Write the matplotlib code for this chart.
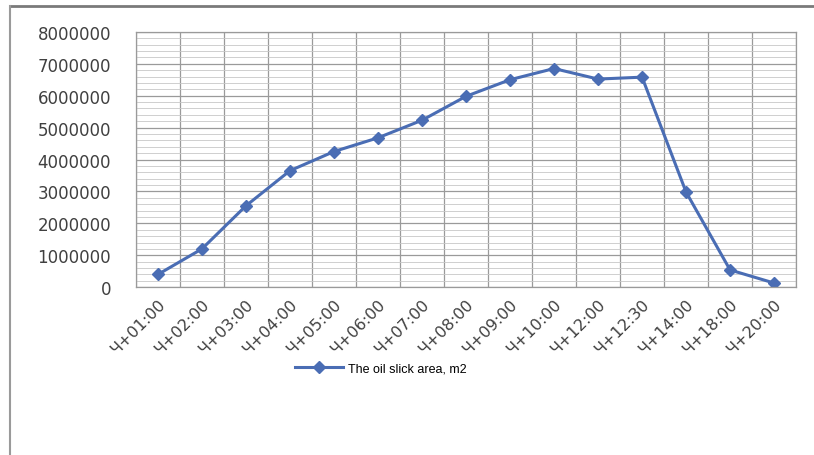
import matplotlib.pyplot as plt
from matplotlib.lines import Line2D
import numpy as np

# Data
times = [
    "Ч+01:00", "Ч+02:00", "Ч+03:00", "Ч+04:00", "Ч+05:00",
    "Ч+06:00", "Ч+07:00", "Ч+08:00", "Ч+09:00", "Ч+10:00",
    "Ч+12:00", "Ч+12:30", "Ч+14:00", "Ч+18:00", "Ч+20:00",
]
area = [
    400000, 1200000, 2550000, 3650000, 4250000,
    4680000, 5230000, 5980000, 6500000, 6850000,
    6520000, 6580000, 2980000, 540000, 130000,
]
series_name = "The oil slick area, m2"

line_color = "#4a6db4"
grid_color = "#9a9a9a"
text_color = "#404040"

plt.rcParams["font.family"] = ["DejaVu Sans"]

fig = plt.figure(figsize=(8.14, 4.56), dpi=100)
ax = fig.add_axes([0.167, 0.368, 0.811, 0.560])

x = np.arange(len(times))
ax.plot(x, area, color=line_color, lw=2.2, marker="D", markersize=6,
        markerfacecolor=line_color, markeredgecolor=line_color, label=series_name)

ax.set_xlim(-0.5, len(times) - 0.5)
ax.set_ylim(0, 8000000)
ax.set_yticks(np.arange(0, 8000001, 1000000))
ax.set_yticklabels([f"{v:d}" for v in range(0, 8000001, 1000000)])
ax.set_yticks(np.arange(0, 8000001, 200000), minor=True)
ax.set_xticks(x)
ax.set_xticklabels(times, rotation=45, ha="right", rotation_mode="anchor")
ax.set_xticks(np.arange(-0.5, len(times), 1), minor=True)

ax.grid(which="major", axis="y", color=grid_color, lw=0.9)
ax.grid(which="minor", axis="y", color="#c8c8c8", lw=0.6)
ax.grid(which="minor", axis="x", color=grid_color, lw=0.9)
ax.set_axisbelow(True)

ax.tick_params(axis="both", which="both", length=0, colors=text_color)
ax.tick_params(axis="y", labelsize=12, pad=18)
ax.tick_params(axis="x", labelsize=11.5, pad=6)
for s in ax.spines.values():
    s.set_color(grid_color)
    s.set_linewidth(0.9)

fig.legend(loc="center", bbox_to_anchor=(0.468, 0.189), frameon=False,
           prop={"family": "Liberation Sans", "size": 9}, handlelength=3.8,
           handletextpad=0.4, labelcolor="black")

# figure border (top and left edges visible)
fig.add_artist(Line2D([0.012, 1.0], [0.984, 0.984], transform=fig.transFigure,
                      color="#7a7a7a", lw=2))
fig.add_artist(Line2D([0.012, 0.012], [0.0, 0.984], transform=fig.transFigure,
                      color="#9a9a9a", lw=1.5))

plt.savefig("out.png", dpi=100)
